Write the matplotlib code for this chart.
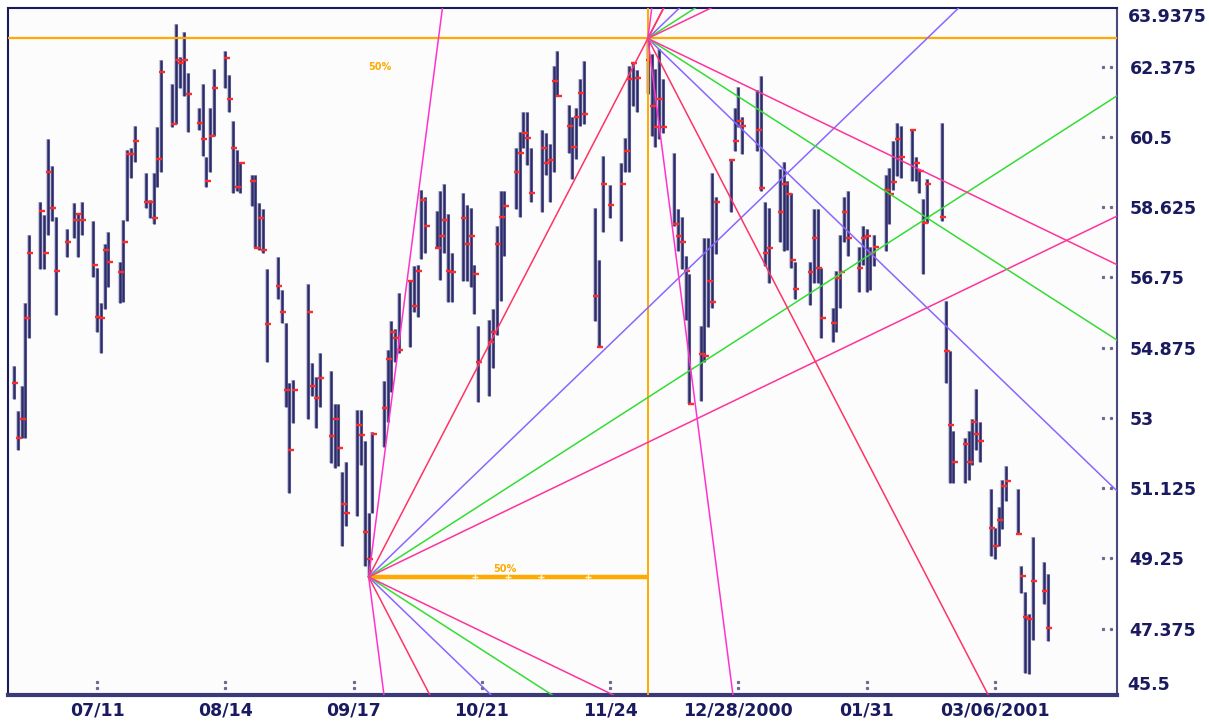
import numpy as np
import pandas as pd
import matplotlib
matplotlib.use("Agg")
import matplotlib.pyplot as plt
import matplotlib.dates as mdates
import matplotlib.transforms as mtransforms

# trading days: business days Jun 19 2000 .. Mar 20 2001 minus market holidays
FIRST_DAY = "2000-06-19"
LAST_DAY = "2001-03-20"
HOLIDAYS = ["2000-07-04", "2000-09-04", "2000-11-23", "2000-12-25",
            "2001-01-01", "2001-01-15", "2001-02-19"]

# (high, low, close) per trading day
JUN_2000 = [(54.37, 53.49, 53.94), (53.17, 52.15, 52.45), (53.86, 52.47, 52.98),
            (56.05, 52.47, 55.65), (57.87, 55.12, 57.41), (58.77, 56.96, 58.53),
            (58.40, 56.96, 57.41), (60.43, 57.87, 59.55), (59.73, 58.24, 58.59),
            (58.35, 55.73, 56.93)]
JUL_2000 = [(58.03, 57.28, 57.68), (58.72, 57.79, 58.27), (58.43, 57.28, 58.43),
            (58.77, 57.87, 58.27), (58.24, 56.75, 57.09), (57.01, 55.30, 55.70),
            (56.05, 54.72, 55.65), (57.65, 55.89, 57.47), (57.97, 56.48, 57.15),
            (57.17, 56.05, 56.88), (58.29, 56.10, 57.68), (60.16, 58.24, 60.05),
            (60.21, 59.39, 60.05), (60.80, 59.84, 60.40), (59.52, 58.59, 58.75),
            (58.80, 58.32, 58.75), (59.52, 58.16, 58.32), (60.75, 59.15, 59.92),
            (62.56, 59.57, 62.24), (61.92, 60.77, 60.83)]
AUG_2000 = [(63.52, 60.83, 62.54), (62.62, 61.79, 62.46), (63.31, 61.58, 62.54),
            (62.19, 60.64, 61.63), (61.28, 60.67, 60.88), (61.92, 60.00, 60.45),
            (59.95, 59.17, 59.33), (61.28, 59.57, 60.51), (62.30, 60.51, 61.79),
            (62.78, 61.79, 62.59), (62.14, 61.15, 61.52), (60.91, 59.01, 60.19),
            (60.16, 59.04, 59.17), (59.84, 59.01, 59.81), (59.47, 58.64, 59.33),
            (59.47, 57.52, 57.52), (58.72, 57.47, 58.32), (58.56, 57.41, 57.47),
            (56.96, 54.50, 55.49), (57.28, 56.18, 56.51), (56.42, 55.52, 55.81),
            (55.52, 53.28, 53.73), (53.94, 50.98, 52.13)]
SEP_2000 = [(54.02, 52.85, 53.73), (56.58, 52.96, 55.81), (54.45, 53.57, 53.84),
            (54.08, 52.74, 53.52), (54.72, 53.28, 54.05), (54.24, 51.78, 52.50),
            (53.38, 51.67, 52.98), (53.38, 51.70, 52.18), (51.54, 49.57, 50.69),
            (51.81, 50.10, 50.47), (53.22, 50.39, 52.80), (53.22, 51.73, 52.53),
            (52.37, 49.03, 49.94), (50.47, 48.75, 49.22), (52.61, 50.47, 52.56),
            (53.97, 52.23, 53.25), (54.80, 52.90, 54.58), (55.57, 53.70, 55.28),
            (55.36, 54.48, 55.12), (56.32, 54.74, 54.80)]
OCT_2000 = [(56.69, 54.90, 56.66), (57.04, 55.81, 55.97), (57.07, 55.68, 56.93),
            (59.09, 57.23, 58.80), (58.88, 57.41, 58.11), (58.51, 57.52, 57.52),
            (59.04, 56.69, 57.84), (59.25, 57.41, 58.27), (58.45, 56.08, 56.93),
            (57.39, 56.08, 56.88), (58.99, 56.66, 58.32), (58.67, 56.66, 57.63),
            (58.61, 56.48, 57.84), (57.09, 55.78, 56.83), (55.46, 53.41, 54.48),
            (55.62, 53.57, 55.01), (55.89, 54.34, 55.30), (58.13, 55.22, 57.63),
            (59.04, 56.13, 58.37), (59.04, 57.31, 58.64), (60.21, 58.56, 59.55),
            (60.64, 58.35, 60.08)]
NOV_2000 = [(61.15, 60.19, 60.59), (61.15, 59.76, 60.48), (60.21, 58.77, 59.01),
            (60.69, 58.48, 60.19), (60.59, 59.47, 59.79), (60.32, 58.75, 59.87),
            (62.40, 59.55, 62.00), (62.78, 61.58, 61.58), (61.34, 60.08, 60.78),
            (61.02, 59.36, 60.24), (61.26, 59.92, 61.02), (62.03, 60.78, 61.66),
            (62.51, 60.83, 61.12), (58.61, 55.57, 56.24), (57.20, 54.90, 54.90),
            (60.00, 57.95, 59.25), (59.20, 58.32, 58.69), (59.79, 57.71, 59.25),
            (60.48, 59.55, 60.13), (62.40, 59.55, 62.03), (62.48, 61.31, 62.48)]
DEC_2000 = [(62.27, 61.15, 62.08), (63.125, 61.63, 62.56), (62.70, 60.53, 61.31),
            (62.30, 60.24, 60.75), (62.83, 60.43, 61.50), (62.03, 60.61, 60.75),
            (60.08, 58.11, 58.16), (58.56, 57.44, 57.84), (58.35, 56.96, 57.68),
            (57.31, 55.62, 56.91), (56.85, 53.36, 53.36), (55.46, 53.44, 54.69),
            (57.81, 54.50, 54.64), (57.81, 55.41, 56.64), (59.52, 55.94, 56.08),
            (58.88, 57.36, 58.75), (59.89, 58.48, 59.89), (61.28, 60.13, 60.40),
            (61.82, 60.75, 60.93), (61.02, 60.03, 60.78)]
JAN_2001 = [(61.76, 60.13, 60.67), (62.11, 59.04, 59.12), (58.77, 57.04, 57.41),
            (58.61, 56.61, 57.52), (59.63, 57.68, 58.48), (59.84, 57.44, 59.23),
            (59.31, 57.47, 58.96), (59.01, 56.99, 57.20), (57.15, 56.16, 56.45),
            (57.15, 56.00, 56.88), (58.56, 56.61, 57.79), (58.56, 56.61, 56.99),
            (57.01, 55.14, 55.65), (55.94, 55.01, 55.54), (56.91, 55.28, 56.72),
            (57.89, 55.94, 56.88), (58.88, 57.68, 58.48), (59.04, 57.33, 57.79),
            (57.57, 56.37, 56.99), (58.11, 57.09, 57.81), (58.05, 56.37, 57.84)]
FEB_2001 = [(57.57, 56.40, 57.39), (57.87, 57.04, 57.57), (59.49, 57.44, 59.09),
            (59.68, 58.16, 58.96), (60.40, 59.09, 59.28), (60.88, 59.44, 60.45),
            (60.78, 59.41, 59.97), (60.69, 59.31, 60.67), (59.95, 59.31, 59.81),
            (59.63, 59.01, 59.60), (58.83, 56.83, 58.21), (59.36, 58.21, 59.23),
            (60.88, 58.24, 58.35), (56.13, 53.94, 54.77), (54.77, 51.27, 52.82),
            (52.66, 51.27, 51.83), (52.45, 51.27, 52.29), (52.66, 51.35, 51.83),
            (52.98, 51.75, 52.88)]
MAR_2001 = [(53.76, 52.15, 52.56), (52.88, 51.83, 52.37), (51.11, 49.30, 50.05),
            (50.07, 49.22, 49.59), (50.63, 49.57, 50.26), (51.33, 50.02, 51.19),
            (51.70, 50.77, 51.30), (51.11, 49.89, 49.91), (49.03, 48.31, 48.77),
            (48.34, 46.20, 47.67), (47.75, 46.15, 47.62), (49.81, 47.08, 48.63),
            (49.14, 48.04, 48.37), (48.82, 47.03, 47.40)]

# gann fan pivots (low and high) and fan ratios
P1_DATE, P1_PRICE = "2000-09-21", 48.75
P2_DATE, P2_PRICE = "2000-12-04", 63.125
FAN_RATIOS = [4, 1, 1 / 2, 1 / 3, 1 / 4]
FAN_COLORS = ["#ff33cc", "#ff3366", "#8a66ff", "#33dd33", "#ff3399"]
TIME_MARKS = [0.382, 0.5, 0.618, 0.786]

XTICK_DATES = ["2000-07-11", "2000-08-14", "2000-09-17", "2000-10-21",
               "2000-11-24", "2000-12-28", "2001-01-31", "2001-03-06"]
XTICK_LABELS = ["07/11", "08/14", "09/17", "10/21", "11/24",
                "12/28/2000", "01/31", "03/06/2001"]
YTICKS = [47.375, 49.25, 51.125, 53, 54.875, 56.75, 58.625, 60.5, 62.375]
Y_TOP, Y_BOTTOM = 63.9375, 45.5

NAVY = "#1a1a5e"
ORANGE = "#ffaa00"

days = pd.bdate_range(FIRST_DAY, LAST_DAY)
days = days[~days.isin(pd.to_datetime(HOLIDAYS))]
bars = np.array(JUN_2000 + JUL_2000 + AUG_2000 + SEP_2000 + OCT_2000 +
                NOV_2000 + DEC_2000 + JAN_2001 + FEB_2001 + MAR_2001)
assert len(days) == len(bars)
x = mdates.date2num(days.to_pydatetime())
highs, lows, closes = bars[:, 0], bars[:, 1], bars[:, 2]

fig = plt.figure(figsize=(12.09, 7.22), dpi=100, facecolor="white")
ax = fig.add_axes([8 / 1209, 27 / 722, 1109 / 1209, 687 / 722])
ax.set_facecolor("#fcfcfc")

d0 = mdates.date2num(pd.Timestamp("2000-07-11").to_pydatetime())
ax.set_xlim(d0 - 23.6, d0 + 270.35)
ax.set_ylim(45.6, Y_TOP)

# price bars with a soft halo
ax.vlines(x, lows, highs, color="#9a9ac0", lw=3.0, alpha=0.5, zorder=2)
ax.vlines(x, lows, highs, color="#2b2b6b", lw=1.8, zorder=2)
ax.plot(x + 0.35, closes, ls="none", marker="_", ms=4.5, mew=1.7,
        color="#ff2a2a", zorder=3)

# pivots
x1 = mdates.date2num(pd.Timestamp(P1_DATE).to_pydatetime())
x2 = mdates.date2num(pd.Timestamp(P2_DATE).to_pydatetime())
slope = (P2_PRICE - P1_PRICE) / (x2 - x1)

ax.axhline(P2_PRICE, color=ORANGE, lw=1.6, zorder=4)
ax.axvline(x2, color=ORANGE, lw=1.4, zorder=4)
ax.plot([x1, x2], [P1_PRICE, P1_PRICE], color=ORANGE, lw=3.2, zorder=4,
        solid_capstyle="butt")
for f in TIME_MARKS:
    ax.plot(x1 + f * (x2 - x1), P1_PRICE, marker="+", ms=4, mew=1,
            color="#fff3c0", zorder=5)

# gann fans from both pivots, up and down
span = 400
for px, py in [(x1, P1_PRICE), (x2, P2_PRICE)]:
    for r, c in zip(FAN_RATIOS, FAN_COLORS):
        for sgn in (1, -1):
            ax.plot([px, px + span], [py, py + sgn * slope * r * span],
                    color=c, lw=1.1, zorder=5)

ax.text(x1 + 3, 62.35, "50%", color=ORANGE, fontsize=7, fontweight="bold",
        ha="center", va="center", zorder=6)
ax.text(x1 + 36, 48.97, "50%", color=ORANGE, fontsize=7, fontweight="bold",
        ha="center", va="center", zorder=6)

# axes styling
for side in ["left", "top"]:
    ax.spines[side].set_color(NAVY)
    ax.spines[side].set_linewidth(1.5)
ax.spines["right"].set_color("#4a4a80")
ax.spines["right"].set_linewidth(1.5)
ax.spines["bottom"].set_color("#3a3a78")
ax.spines["bottom"].set_linewidth(3)

ax.yaxis.tick_right()
ax.set_yticks(YTICKS)
ax.set_yticklabels([f"{t:g}" for t in YTICKS])
ax.tick_params(axis="y", length=0, pad=9, labelsize=12.5, labelcolor=NAVY)
for lab in ax.get_yticklabels():
    lab.set_fontweight("bold")
ax.text(1.0095, Y_TOP, f"{Y_TOP:g}", transform=mtransforms.blended_transform_factory(
    ax.transAxes, ax.transData), ha="left", va="top", fontsize=12.5,
    fontweight="bold", color=NAVY)
ax.text(1.0095, 0.015, f"{Y_BOTTOM:g}", transform=ax.transAxes, ha="left",
        va="center", fontsize=12.5, fontweight="bold", color=NAVY)

xt = mdates.date2num(pd.to_datetime(XTICK_DATES).to_pydatetime())
ax.set_xticks(xt)
ax.set_xticklabels(XTICK_LABELS)
ax.tick_params(axis="x", length=0, pad=5, labelsize=12.5, labelcolor=NAVY)
for lab in ax.get_xticklabels():
    lab.set_fontweight("bold")

# dotted tick marks inside the plot
ty = mtransforms.blended_transform_factory(ax.transAxes, ax.transData)
for t in YTICKS:
    ax.plot([0.9874, 0.9946], [t, t], ls="none", marker="s", ms=1.3,
            color="#6a6a90", transform=ty, zorder=6)
tx = mtransforms.blended_transform_factory(ax.transData, ax.transAxes)
for t in xt:
    ax.plot([t, t], [0.010, 0.019], ls="none", marker="s", ms=1.3,
            color="#6a6a90", transform=tx, zorder=6)

fig.savefig("out.png", dpi=100, facecolor="white")
